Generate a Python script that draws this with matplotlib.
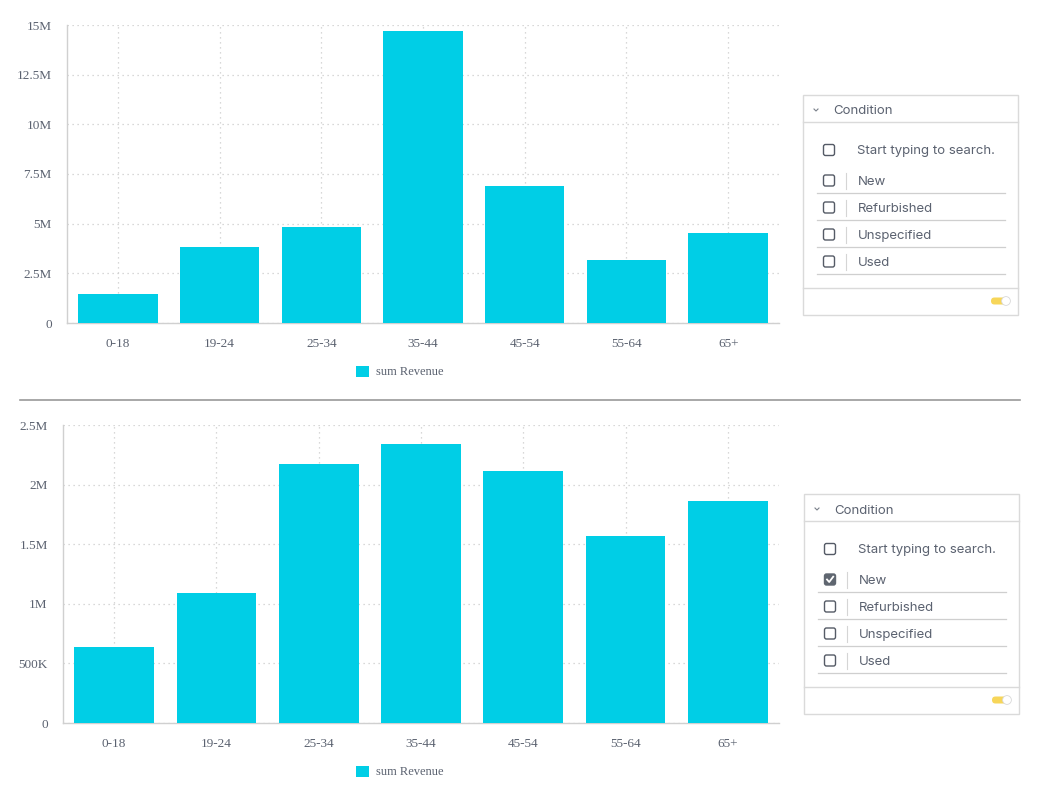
import numpy as np
import matplotlib.pyplot as plt
from matplotlib.patches import FancyBboxPatch, Rectangle, Circle
from matplotlib.lines import Line2D

ages = ['0-18', '19-24', '25-34', '35-44', '45-54', '55-64', '65+']
rev_all = [1.46e6, 3.83e6, 4.83e6, 14.70e6, 6.90e6, 3.17e6, 4.53e6]
rev_new = [0.638e6, 1.09e6, 2.17e6, 2.34e6, 2.11e6, 1.57e6, 1.86e6]
ticks_all = [0, 2.5e6, 5e6, 7.5e6, 10e6, 12.5e6, 15e6]
ticks_new = [0, 0.5e6, 1e6, 1.5e6, 2e6, 2.5e6]
conditions = ['New', 'Refurbished', 'Unspecified', 'Used']

BAR = '#00cee6'
TXT = '#5b6270'
GRID = '#cccccc'
SERIF = 'Liberation Serif'
SANS = 'Inter'

W, H = 1040, 800
fig = plt.figure(figsize=(W / 100, H / 100), dpi=100)


def fmt(v):
    if v == 0:
        return '0'
    if v >= 1e6:
        s = ('%.1f' % (v / 1e6)).rstrip('0').rstrip('.')
        return s + 'M'
    return '%dK' % (v / 1e3)


def px_axes(x0, y0, x1, y1):
    # pixel box (top-left origin) -> axes
    return fig.add_axes([x0 / W, 1 - y1 / H, (x1 - x0) / W, (y1 - y0) / H])


def bar_chart(ax, vals, ticks, leg_y):
    x = np.arange(len(ages))
    ax.bar(x, vals, width=0.78, color=BAR, zorder=3, label='sum Revenue')
    ax.set_xlim(-0.5, len(ages) - 0.5)
    ax.set_ylim(0, ticks[-1])
    ax.set_xticks(x)
    ax.set_xticklabels(ages)
    ax.set_yticks(ticks)
    ax.set_yticklabels([fmt(t) for t in ticks])
    for s in ['top', 'right']:
        ax.spines[s].set_visible(False)
    for s in ['left', 'bottom']:
        ax.spines[s].set_color('#d0d0d0')
        ax.spines[s].set_linewidth(1)
    ax.grid(True, color=GRID, linestyle=(0, (1, 3)), linewidth=0.9, zorder=0)
    ax.tick_params(length=0, colors=TXT, labelsize=9.5, pad=11)
    for lab in ax.get_xticklabels() + ax.get_yticklabels():
        lab.set_fontfamily(SERIF)
    ax.legend(loc='center', bbox_to_anchor=(400 / W, 1 - leg_y / H),
              bbox_transform=fig.transFigure, frameon=False,
              prop={'family': SERIF, 'size': 9}, labelcolor=TXT,
              handlelength=1.0, handleheight=1.0, handletextpad=0.6)


ax1 = px_axes(67, 25, 779, 323)
bar_chart(ax1, rev_all, ticks_all, 372)
ax2 = px_axes(63, 425, 779, 723)
bar_chart(ax2, rev_new, ticks_new, 772)

# overlay for separator and filter panels
ov = fig.add_axes([0, 0, 1, 1])
ov.set_xlim(0, W)
ov.set_ylim(H, 0)
ov.axis('off')
ov.add_line(Line2D([20, 1020], [400, 400], color='#9a9a9a', lw=1.2))


def checkbox(x, y, checked=False):
    ov.add_patch(FancyBboxPatch((x - 5.5, y - 5.5), 11, 11,
                                boxstyle='round,pad=0,rounding_size=2',
                                fc='#5f6670' if checked else 'white',
                                ec='#5f6670' if checked else '#555b66', lw=1))
    if checked:
        ov.add_line(Line2D([x - 3, x - 0.8, x + 3.2], [y, y + 2.5, y - 2.8],
                           color='white', lw=1.3))


def panel(x0, y0, checked):
    ov.add_patch(Rectangle((x0, y0), 215, 220, fc='white', ec='#dadada', lw=1))
    ov.add_line(Line2D([x0, x0 + 215], [y0 + 27, y0 + 27], color='#dadada', lw=1))
    ov.add_line(Line2D([x0 + 11, x0 + 13, x0 + 15], [y0 + 14, y0 + 16, y0 + 14],
                       color='#7a808a', lw=0.8))
    ov.text(x0 + 30, y0 + 16.5, 'Condition', family=SANS, size=9.5, color=TXT,
            va='center')
    checkbox(x0 + 26, y0 + 55)
    ov.text(x0 + 54, y0 + 56, 'Start typing to search.', family=SANS, size=9.5,
            color=TXT, va='center')
    for i, c in enumerate(conditions):
        y = y0 + 85.5 + 27 * i
        checkbox(x0 + 26, y, checked and c == 'New')
        ov.add_line(Line2D([x0 + 43, x0 + 43], [y - 8, y + 8], color='#d5d5d5', lw=0.8))
        ov.text(x0 + 55, y + 1.5, c, family=SANS, size=9.5, color=TXT, va='center')
        ov.add_line(Line2D([x0 + 14, x0 + 202], [y + 12, y + 12],
                           color='#cfcfcf', lw=0.9))
    ov.add_line(Line2D([x0, x0 + 215], [y0 + 193, y0 + 193], color='#dadada', lw=1))
    ov.add_patch(FancyBboxPatch((x0 + 188, y0 + 202.5), 16, 7,
                                boxstyle='round,pad=0,rounding_size=3.5',
                                fc='#f7d659', ec='none'))
    ov.add_patch(Circle((x0 + 203, y0 + 206), 4.4, fc='white', ec='#d8d8d8', lw=0.6))


panel(803, 95, False)
panel(804, 494, True)

fig.savefig('out.png', dpi=100)
